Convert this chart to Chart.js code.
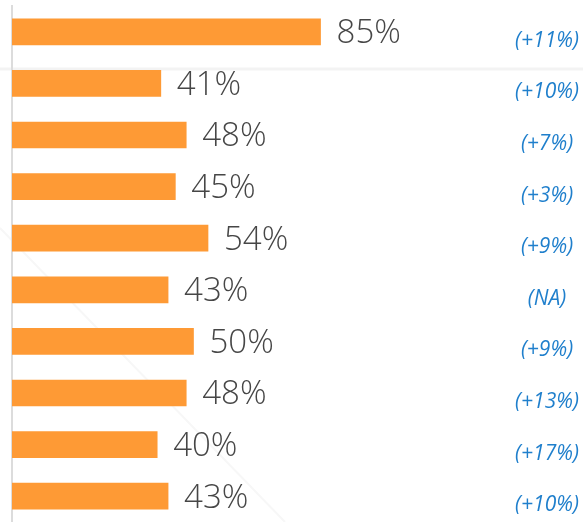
<!DOCTYPE html>
<html>
<head>
<meta charset="utf-8">
<script src="https://cdn.jsdelivr.net/npm/chart.js@4/dist/chart.umd.min.js"></script>
<style>
  html, body { margin: 0; padding: 0; background: #fff; }
  #wrap { width: 583px; height: 522px; position: relative; }
</style>
</head>
<body>
<div id="wrap"><canvas id="chart"></canvas></div>
<script>
const categories = ["Row 1", "Row 2", "Row 3", "Row 4", "Row 5", "Row 6", "Row 7", "Row 8", "Row 9", "Row 10"];
const values = [85, 41, 48, 45, 54, 43, 50, 48, 40, 43];
const changes = ["(+11%)", "(+10%)", "(+7%)", "(+3%)", "(+9%)", "(NA)", "(+9%)", "(+13%)", "(+17%)", "(+10%)"];

// faint background strokes seen behind the chart
const backdrop = {
  id: "backdrop",
  beforeDraw(chart) {
    const { ctx, width } = chart;
    ctx.save();
    ctx.strokeStyle = "#f3f3f3";
    ctx.lineWidth = 3;
    ctx.beginPath();
    ctx.moveTo(0, 69);
    ctx.lineTo(width, 69);
    ctx.stroke();
    ctx.lineWidth = 2;
    ctx.strokeStyle = "#f7f7f7";
    ctx.beginPath();
    ctx.moveTo(0, 228);
    ctx.lineTo(285, 522);
    ctx.stroke();
    ctx.restore();
  },
};

const barLabels = {
  id: "barLabels",
  afterDatasetsDraw(chart) {
    const { ctx } = chart;
    const meta = chart.getDatasetMeta(0);
    ctx.save();
    meta.data.forEach((bar, i) => {
      ctx.font = "300 33px 'Open Sans', sans-serif";
      ctx.fillStyle = "#464646";
      ctx.textAlign = "left";
      ctx.textBaseline = "middle";
      ctx.fillText(values[i] + "%", bar.x + 16, bar.y + 2);

      ctx.font = "italic 21px 'Open Sans', sans-serif";
      ctx.fillStyle = "#1f7fcc";
      ctx.textAlign = "center";
      ctx.fillText(changes[i], 547, bar.y + 9);
    });
    ctx.restore();
  },
};

new Chart(document.getElementById("chart"), {
  type: "bar",
  data: {
    labels: categories,
    datasets: [{
      data: values,
      backgroundColor: "#fe9a35",
      borderWidth: 0,
      barThickness: 26,
    }],
  },
  options: {
    indexAxis: "y",
    responsive: true,
    maintainAspectRatio: false,
    animation: false,
    layout: { padding: { left: 12, right: 208, top: 6, bottom: 0 } },
    plugins: { legend: { display: false }, tooltip: { enabled: false } },
    scales: {
      x: { display: false, min: 0, max: 100 },
      y: {
        ticks: { display: false },
        grid: { display: false, drawTicks: false },
        border: { display: true, color: "#dcdcdc", width: 2 },
      },
    },
  },
  plugins: [backdrop, barLabels],
});
</script>
</body>
</html>
